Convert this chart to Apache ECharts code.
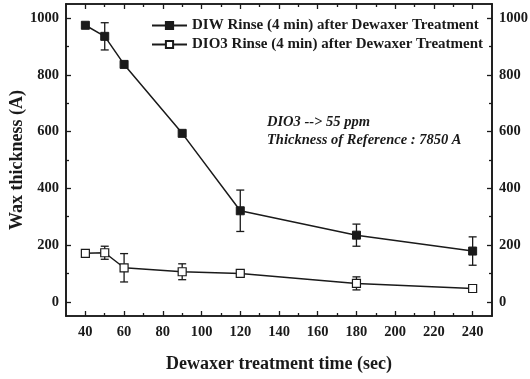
<!DOCTYPE html>
<html><head><meta charset="utf-8">
<script src="https://cdn.jsdelivr.net/npm/echarts@6/dist/echarts.min.js"></script>
<style>html,body{margin:0;padding:0;background:#fff}#c{width:530px;height:379px}</style>
</head><body><div id="c"></div>
<script>
const times = [40, 50, 60, 90, 120, 180, 240];
const diwValues = [975, 936, 837, 594, 321, 235, 179];
const diwErrors = [0, 48, 0, 0, 73, 39, 50];
const dio3Values = [171, 173, 120, 106, 100, 65, 47];
const dio3Errors = [9, 23, 50, 28, 5, 23, 7];
const xMajorTicks = [40, 60, 80, 100, 120, 140, 160, 180, 200, 220, 240];
const xMinorTicks = [50, 70, 90, 110, 130, 150, 170, 190, 210, 230];
const yMajorTicks = [0, 200, 400, 600, 800, 1000];
const yMinorTicks = [100, 300, 500, 700, 900];
const seriesNames = ['DIW Rinse (4 min) after Dewaxer Treatment', 'DIO3 Rinse (4 min) after Dewaxer Treatment'];
const noteLines = ['DIO3 --> 55 ppm', 'Thickness of Reference : 7850 A'];

const ink = '#1a1a1a';
const serif = '"Liberation Serif", "DejaVu Serif", serif';
const lbl = { color: ink, fontFamily: serif, fontWeight: 'bold', fontSize: 14.5, formatter: v => String(v) };

function xAx(pos, ticks, len, labels, extra) {
  return Object.assign({
    type: 'value', position: pos, min: 30, max: 250,
    axisLine: { show: true, onZero: false, lineStyle: { color: ink, width: 1.6 } },
    axisTick: { show: true, inside: true, length: len, customValues: ticks, lineStyle: { color: ink, width: 1.3 } },
    axisLabel: labels ? Object.assign({ customValues: ticks, margin: 9 }, lbl) : { show: false },
    splitLine: { show: false }
  }, extra || {});
}
function yAx(pos, ticks, len, labels, extra) {
  return Object.assign({
    type: 'value', position: pos, min: -50, max: 1050,
    axisLine: { show: true, onZero: false, lineStyle: { color: ink, width: 1.6 } },
    axisTick: { show: true, inside: true, length: len, customValues: ticks, lineStyle: { color: ink, width: 1.3 } },
    axisLabel: labels ? Object.assign({ customValues: ticks, margin: 7 }, lbl) : { show: false },
    splitLine: { show: false }
  }, extra || {});
}

const diwErrData = times.map((t, i) => [t, diwValues[i] - diwErrors[i], diwValues[i] + diwErrors[i]]).filter((d, i) => diwErrors[i] > 0);
const dio3ErrData = times.map((t, i) => [t, dio3Values[i] - dio3Errors[i], dio3Values[i] + dio3Errors[i]]).filter((d, i) => dio3Errors[i] > 0);

function errRender(params, api) {
  const x = api.value(0), lo = api.value(1), hi = api.value(2);
  const a = api.coord([x, hi]), b = api.coord([x, lo]);
  const w = 4;
  const st = { stroke: ink, lineWidth: 1.3 };
  return { type: 'group', children: [
    { type: 'line', shape: { x1: a[0], y1: a[1], x2: b[0], y2: b[1] }, style: st },
    { type: 'line', shape: { x1: a[0] - w, y1: a[1], x2: a[0] + w, y2: a[1] }, style: st },
    { type: 'line', shape: { x1: b[0] - w, y1: b[1], x2: b[0] + w, y2: b[1] }, style: st }
  ]};
}

const chart = echarts.init(document.getElementById('c'), null, { renderer: 'canvas' });
chart.setOption({
  animation: false,
  backgroundColor: '#fff',
  grid: { left: 66, right: 38, top: 4, bottom: 63, containLabel: false, outerBoundsMode: 'none' },
  legend: {
    orient: 'vertical', left: 151, top: 18, padding: 0, itemGap: 4, itemWidth: 35, itemHeight: 9,
    data: seriesNames,
    textStyle: { color: ink, fontFamily: serif, fontWeight: 'bold', fontSize: 15 }
  },
  xAxis: [
    xAx('bottom', xMajorTicks, 5, true, {
      name: 'Dewaxer treatment time (sec)', nameLocation: 'middle', nameGap: 39, nameMoveOverlap: false,
      nameTextStyle: { color: ink, fontFamily: serif, fontWeight: 'bold', fontSize: 18 }
    }),
    xAx('bottom', xMinorTicks, 3, false),
    xAx('top', xMajorTicks, 5, false),
    xAx('top', xMinorTicks, 3, false)
  ],
  yAxis: [
    yAx('left', yMajorTicks, 5, true, {
      name: 'Wax thickness (A)', nameLocation: 'middle', nameGap: 40, nameMoveOverlap: false,
      nameTextStyle: { color: ink, fontFamily: serif, fontWeight: 'bold', fontSize: 18 }
    }),
    yAx('left', yMinorTicks, 3, false),
    yAx('right', yMajorTicks, 5, true),
    yAx('right', yMinorTicks, 3, false)
  ],
  series: [
    { type: 'custom', name: 'diwErr', renderItem: errRender, data: diwErrData, encode: { x: 0, y: [1, 2] }, z: 3, silent: true },
    { type: 'custom', name: 'dio3Err', renderItem: errRender, data: dio3ErrData, encode: { x: 0, y: [1, 2] }, z: 3, silent: true },
    {
      type: 'line', name: seriesNames[0], data: times.map((t, i) => [t, diwValues[i]]),
      symbol: 'rect', symbolSize: 8, showAllSymbol: true,
      lineStyle: { color: ink, width: 1.5 },
      itemStyle: { color: ink, borderColor: ink, borderWidth: 1 }, z: 4
    },
    {
      type: 'line', name: seriesNames[1], data: times.map((t, i) => [t, dio3Values[i]]),
      symbol: 'rect', symbolSize: 8, showAllSymbol: true,
      lineStyle: { color: ink, width: 1.5 },
      itemStyle: { color: '#fff', borderColor: ink, borderWidth: 1.2 }, z: 4
    }
  ],
  graphic: [
    { type: 'text', left: 267, top: 115, style: { text: noteLines[0], fill: ink, font: 'italic bold 14.5px "Liberation Serif", serif' } },
    { type: 'text', left: 267, top: 133, style: { text: noteLines[1], fill: ink, font: 'italic bold 14.5px "Liberation Serif", serif' } }
  ]
});
</script></body></html>
